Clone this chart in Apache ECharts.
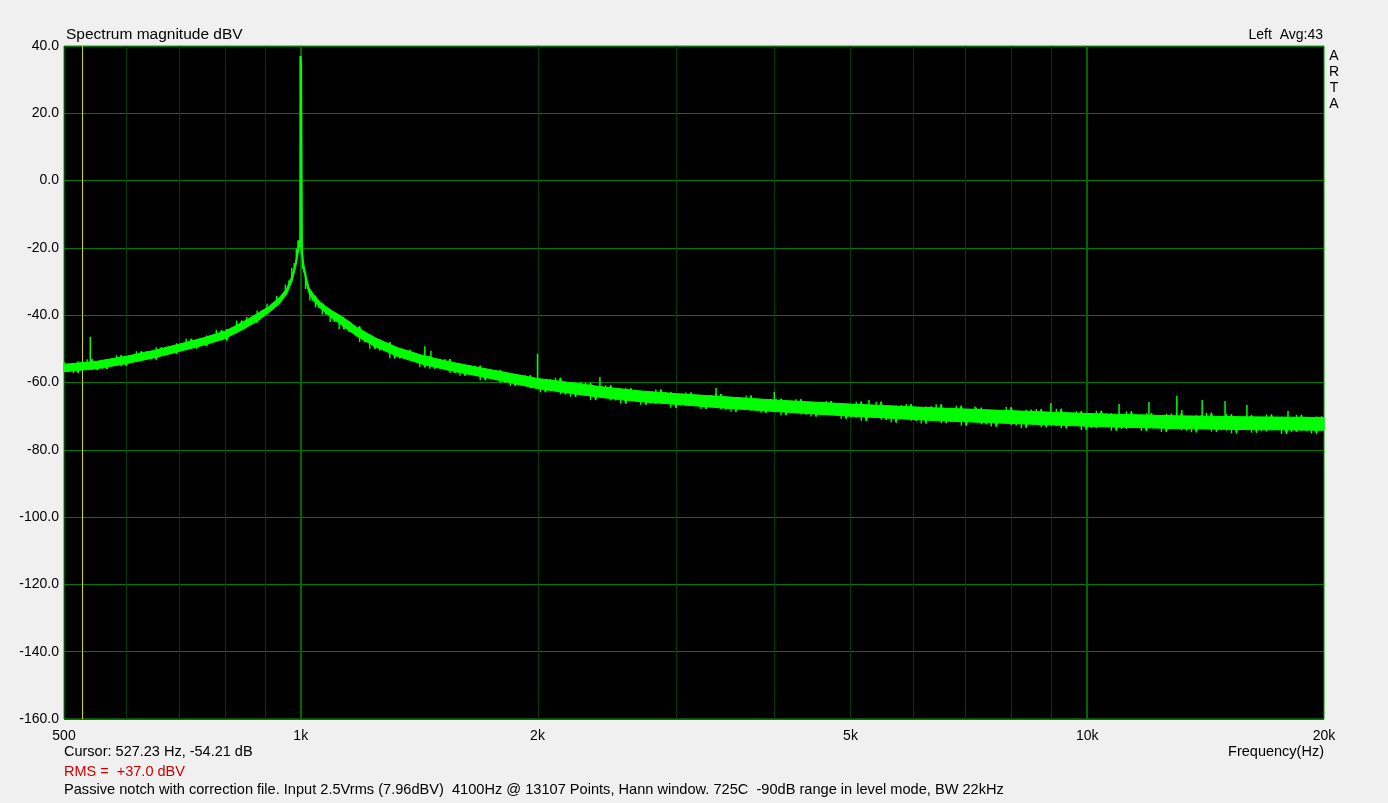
<!DOCTYPE html>
<html><head><meta charset="utf-8">
<script src="https://cdn.jsdelivr.net/npm/echarts@6/dist/echarts.min.js"></script>
<style>html,body{margin:0;padding:0;background:#f0f0f0;}#c{width:1388px;height:803px;}</style>
</head><body><div id="c"></div>
<script>
// ---- data ----
const traceFreq = [
 500,507,514,521,528,535,543,551,559,567,
 575,583,591,600,609,618,627,636,645,655,
 665,675,685,695,705,715,726,737,748,759,
 770,781,793,805,817,829,841,854,867,880,
 893,906,919,932,945,956,966,974,981,987,
 992,995,998,1000,1002,1005,1009,1014,1020,1027,
 1035,1044,1054,1065,1077,1090,1104,1119,1135,1152,
 1170,1188,1206,1224,1242,1260,1279,1298,1317,1336,
 1356,1376,1396,1417,1438,1459,1481,1503,1525,1548,
 1571,1594,1618,1642,1666,1691,1716,1741,1767,1793,
 1820,1847,1874,1902,1930,1959,1988,2017,2047,2077,
 2108,2139,2171,2203,2236,2269,2302,2336,2371,2406,
 2442,2478,2515,2552,2590,2628,2667,2706,2746,2787,
 2828,2870,2912,2955,2999,3043,3088,3134,3180,3227,
 3275,3323,3372,3422,3473,3524,3576,3629,3683,3737,
 3792,3848,3905,3963,4021,4080,4140,4201,4263,4326,
 4390,4455,4521,4588,4656,4725,4795,4866,4938,5011,
 5085,5160,5236,5313,5391,5470,5551,5633,5716,5800,
 5886,5973,6061,6150,6241,6333,6426,6521,6617,6715,
 6814,6915,7017,7121,7226,7333,7441,7551,7662,7775,
 7890,8006,8124,8244,8366,8489,8614,8741,8870,9001,
 9134,9269,9406,9545,9686,9829,9974,10121,10270,10422,
 10576,10732,10890,11051,11214,11380,11548,11718,11891,12067,
 12245,12426,12609,12795,12984,13176,13370,13567,13767,13970,
 14176,14385,14597,14813,15032,15254,15479,15707,15939,16174,
 16413,16655,16901,17150,17403,17660,17921,18185,18453,18725,
 19001,19281,19565,19853,20000
];
const traceLevel = [
 -54.0,-56.8,-54.8,-57.2,-53.7,-55.7,-53.1,-56.3,-54.3,-56.0,
 -53.0,-54.9,-51.9,-55.1,-52.1,-53.7,-50.7,-52.4,-50.7,-53.2,
 -49.5,-51.8,-49.4,-51.5,-48.3,-49.8,-47.0,-49.9,-47.5,-49.2,
 -46.0,-47.6,-44.4,-47.5,-44.1,-45.2,-41.6,-43.0,-40.5,-42.2,
 -38.6,-39.6,-36.6,-37.0,-34.3,-34.2,-30.9,-29.6,-25.9,-24.5,
 -20.2,-17.8,-19.7,37.0,35.0,-21.7,-26.2,-27.4,-32.2,-32.2,
 -35.6,-34.2,-37.7,-36.5,-39.8,-38.3,-42.0,-40.3,-44.2,-41.9,
 -45.1,-43.3,-48.0,-46.8,-50.0,-47.2,-50.5,-48.0,-52.8,-50.2,
 -52.9,-50.3,-53.1,-51.8,-55.5,-52.2,-55.9,-53.6,-55.4,-53.0,
 -57.2,-55.3,-58.0,-54.8,-57.7,-55.0,-59.3,-56.5,-58.3,-56.3,
 -60.1,-58.1,-61.0,-57.8,-60.8,-57.8,-61.7,-59.7,-62.9,-59.0,
 -61.9,-58.6,-63.5,-61.0,-64.2,-60.0,-63.6,-60.1,-65.2,-61.4,
 -63.8,-60.8,-65.3,-62.4,-66.3,-61.7,-65.2,-62.5,-66.6,-63.7,
 -66.3,-62.1,-65.6,-62.9,-67.5,-63.8,-66.8,-63.0,-65.9,-63.9,
 -67.9,-63.8,-67.1,-63.4,-68.0,-65.1,-68.7,-64.6,-67.4,-63.9,
 -68.3,-66.0,-69.0,-64.9,-68.4,-64.8,-69.7,-66.0,-68.2,-65.0,
 -69.5,-66.1,-70.1,-66.9,-69.6,-65.5,-69.2,-66.3,-70.8,-67.0,
 -70.4,-65.7,-71.4,-67.6,-70.4,-65.7,-71.1,-67.3,-71.9,-66.8,
 -70.1,-66.4,-71.4,-67.9,-72.2,-67.1,-70.9,-66.5,-72.1,-68.7,
 -71.7,-66.9,-72.8,-68.3,-71.1,-67.5,-72.4,-68.2,-73.1,-69.2,
 -72.1,-67.3,-72.7,-68.9,-73.5,-68.1,-72.0,-67.9,-73.3,-69.5,
 -72.9,-67.8,-73.6,-69.1,-72.5,-68.5,-74.1,-69.8,-73.5,-68.4,
 -73.1,-69.2,-74.3,-70.4,-73.8,-68.6,-73.2,-69.6,-74.4,-69.1,
 -72.8,-70.0,-74.7,-69.3,-73.7,-69.0,-74.2,-70.5,-74.8,-69.7,
 -73.4,-69.0,-74.6,-70.8,-74.2,-69.4,-75.1,-70.3,-73.6,-69.7,
 -74.9,-70.7,-74.5,-69.5,-74.1,-70.2,-75.3,-71.1,-74.7,-69.6,
 -74.3,-70.7,-75.2,-70.1,-73.8
];
// solid core of the noise band (upper / lower edge)
const bandFreq  = [500,550,600,650,700,750,800,840,880,910,940,960,975,985,992,996,999,1003,1008,1015,1025,1040,1060,1090,1130,1180,1250,1330,1430,1550,1700,1850,2000,2200,2400,2700,3000,3400,4000,5000,6500,8500,10300,13000,16000,20000];
const bandUpper = [-54.6,-53.7,-52.2,-50.5,-48.6,-46.8,-44.8,-42.3,-39.6,-37.5,-34.7,-32.0,-28.2,-24.2,-20.2,-18.0,-17.5,-20.7,-24.4,-28.2,-32.0,-34.1,-36.2,-38.4,-40.5,-43.7,-47.0,-49.7,-52.0,-53.9,-55.7,-57.3,-58.8,-60.0,-61.2,-62.5,-63.3,-64.1,-65.2,-66.4,-67.6,-68.6,-69.3,-69.9,-70.2,-70.4];
const bandLower = [-56.8,-55.9,-54.4,-52.7,-50.8,-49.0,-47.0,-44.5,-41.8,-39.3,-36.5,-33.6,-29.8,-25.8,-21.8,-19.6,-19.1,-22.3,-26.0,-29.8,-33.6,-35.9,-38.0,-40.4,-43.1,-46.3,-49.6,-52.3,-54.6,-56.5,-58.3,-60.1,-61.8,-63.2,-64.4,-65.7,-66.5,-67.5,-68.6,-70.0,-71.4,-72.4,-73.1,-73.7,-74.0,-74.2];
// discrete tones (spurs) rising above the noise band
const toneFreq = [540,1438,1464,2000,2401,3373,4000,5278,7200,8990,10977,11980,13000,13190,14000,14970,15960,18000];
const toneTop  = [-46.4,-49.2,-50.6,-51.5,-58.4,-61.6,-62.8,-65.2,-67.1,-66.1,-66.4,-65.8,-64.0,-68.2,-65.2,-65.5,-66.7,-68.5];
const toneBase = [-55.0,-53.5,-54.0,-60.3,-62.8,-65.7,-66.8,-68.5,-69.9,-70.7,-71.4,-71.5,-71.7,-71.8,-71.9,-72.0,-72.2,-72.3];

const xTickValues = [500,1000,2000,5000,10000,20000];
const xTickLabels = ['500','1k','2k','5k','10k','20k'];
const minorGridFreq = [600,700,800,900,2000,3000,4000,5000,6000,7000,8000,9000];
const majorGridFreq = [1000,10000];
const cursorFreq = [527.23];
const yMin = -160, yMax = 40;

const FONT = 'Arial, "Liberation Sans", sans-serif';
const GREEN = '#00ff00';
const MAJOR = '#007c00';

// full-height vertical rule through the axes' own scales
const vRule = (freqs, color, z, w) => ({
  type: 'custom', z: z, silent: true,
  data: freqs.map(f => [f, yMax]),
  renderItem: (params, api) => {
    const a = api.coord([api.value(0), yMin]);
    const b = api.coord([api.value(0), yMax]);
    const lw = w || 1;
    const x = lw % 2 ? Math.round(a[0]) + 0.5 : Math.round(a[0]);
    return {type: 'line', shape: {x1: x, y1: a[1], x2: x, y2: b[1]},
            style: {stroke: color, lineWidth: lw}};
  }
});

const chart = echarts.init(document.getElementById('c'));
const option = {
  animation: false,
  backgroundColor: '#f0f0f0',
  grid: {left: 64, right: 64, top: 46, bottom: 84, show: true,
         backgroundColor: '#000000', borderColor: '#00a000', borderWidth: 1},
  xAxis: {type: 'log', logBase: 10, min: 500, max: 20000, show: false,
          axisLine: {show: false}, axisTick: {show: false}, minorTick: {show: false},
          axisLabel: {show: false}, splitLine: {show: false}, minorSplitLine: {show: false}},
  yAxis: {type: 'value', min: yMin, max: yMax, interval: 20,
          axisLine: {show: false}, axisTick: {show: false},
          axisLabel: {color: '#000', fontSize: 14, fontFamily: FONT, margin: 5,
                      formatter: v => v.toFixed(1)},
          splitLine: {lineStyle: {color: MAJOR, width: 1}}},
  series: [
    vRule(minorGridFreq, '#003c00', 1),
    vRule(majorGridFreq, '#006600', 1, 2),
    vRule(cursorFreq, '#d4d400', 1),
    {type: 'custom', z: 2, silent: true,
     data: bandFreq.map((f, i) => [f, bandUpper[i], bandLower[i]]),
     renderItem: (params, api) => {
       if (params.dataIndex !== 0) return null;
       const pts = [];
       bandFreq.forEach((f, i) => pts.push(api.coord([f, bandUpper[i]])));
       for (let i = bandFreq.length - 1; i >= 0; i--) pts.push(api.coord([bandFreq[i], bandLower[i]]));
       return {type: 'polygon', shape: {points: pts}, style: {fill: GREEN, stroke: GREEN, lineWidth: 1}};
     }},
    {type: 'line', z: 3, silent: true, symbol: 'none', showSymbol: false,
     data: traceFreq.map((f, i) => [f, traceLevel[i]]),
     lineStyle: {color: GREEN, width: 1}},
    // vertical hairs between consecutive FFT readings
    {type: 'custom', z: 3, silent: true,
     data: traceFreq.map((f, i) => [f, traceLevel[i]]),
     renderItem: (params, api) => {
       const i = params.dataIndex;
       if (i >= traceFreq.length - 1) return null;
       const a = api.coord([traceFreq[i], traceLevel[i]]);
       const b = api.coord([traceFreq[i], traceLevel[i + 1]]);
       return {type: 'line', shape: {x1: a[0], y1: a[1], x2: b[0], y2: b[1]},
               style: {stroke: GREEN, lineWidth: 1.4}};
     }},
    {type: 'custom', z: 4, silent: true,
     data: toneFreq.map((f, i) => [f, toneTop[i], toneBase[i]]),
     renderItem: (params, api) => {
       const p0 = api.coord([api.value(0), api.value(2)]);
       const p1 = api.coord([api.value(0), api.value(1)]);
       return {type: 'line', shape: {x1: p0[0], y1: p0[1], x2: p1[0], y2: p1[1]},
               style: {stroke: GREEN, lineWidth: 1.5}};
     }}
  ]
};
chart.setOption(option);

const txt = (text, x, y, align, color, size) => ({type: 'text', x: x, y: y, silent: true,
  style: {text: text, fill: color || '#000', font: (size || 14.6) + 'px ' + FONT,
          align: align || 'left', verticalAlign: 'middle'}});
const graphics = [
  txt('Spectrum magnitude dBV', 66, 35, 'left', '#000', 15.5),
  txt('Left  Avg:43', 1323, 35, 'right', '#000', 14),
  {type: 'text', x: 1334, y: 48, silent: true,
   style: {text: 'A\nR\nT\nA', fill: '#000', font: '14px ' + FONT, align: 'center', verticalAlign: 'top', lineHeight: 16}},
  txt('Cursor: 527.23 Hz, -54.21 dB', 64, 752, 'left', '#000', 14.5),
  txt('Frequency(Hz)', 1324, 752, 'right', '#000', 14.5),
  txt('RMS =  +37.0 dBV', 64, 772, 'left', '#cc0000', 14.5),
  txt('Passive notch with correction file. Input 2.5Vrms (7.96dBV)  4100Hz @ 13107 Points, Hann window. 725C  -90dB range in level mode, BW 22kHz', 64, 790)
];
xTickValues.forEach((v, i) => {
  const px = chart.convertToPixel({xAxisIndex: 0}, v);
  graphics.push(txt(xTickLabels[i], px, 736, 'center', '#000', 14));
});
chart.setOption({graphic: graphics});
</script></body></html>
